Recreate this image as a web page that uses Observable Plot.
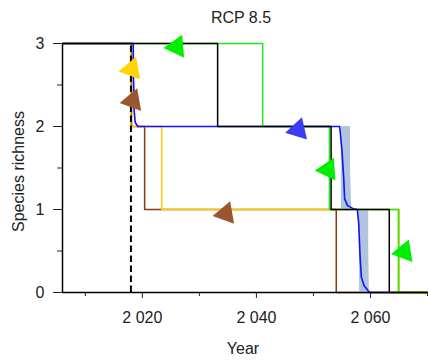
<!DOCTYPE html>
<html>
<head>
<meta charset="utf-8">
<script src="https://cdn.jsdelivr.net/npm/d3@7"></script>
<script src="https://cdn.jsdelivr.net/npm/@observablehq/plot@0.6"></script>
<style>
  html, body { margin: 0; padding: 0; background: #fff; }
  svg { font-family: "Liberation Sans", Arial, sans-serif; }
</style>
</head>
<body>
<div id="chart"></div>
<script>
// ---- data ----
const xDomain = [2006, 2070];
const yTicks = [0, 1, 2, 3];
const yMinorTicks = [0.5, 1.5, 2.5];
const xTicks = [2020, 2040, 2060];
const xMinorTicks = [2010, 2030, 2050, 2070];
const presentYear = 2018;

// step series: year where each level starts, and the level
const blackYears = [2006, 2033.2, 2053.1, 2063.3, 2070];
const blackVals  = [3, 2, 1, 0, 0];
const greenYears = [2006, 2041.1, 2052.8, 2064.9, 2070];
const greenVals  = [3, 2, 1, 0, 0];
const goldYears  = [2006, 2017.95, 2023.4, 2065.05, 2070];
const goldVals   = [3, 2, 1, 0, 0];
const brownYears = [2006, 2018.1, 2020.4, 2054.0, 2070];
const brownVals  = [3, 2, 1, 0, 0];

// blue mean trajectory (smooth)
const blueYears = [2006, 2018.4, 2018.45, 2018.55, 2018.75, 2019.2, 2054.6, 2055.0, 2055.3, 2055.47, 2055.95, 2056.95, 2057.7, 2057.94, 2058.18, 2058.41, 2058.89, 2059.6, 2059.9, 2063.3];
const blueVals  = [3, 3, 2.6, 2.2, 2.05, 2.0, 2.0, 1.71, 1.39, 1.13, 1.05, 1.01, 1.0, 0.83, 0.43, 0.18, 0.08, 0.02, 0.0, 0.0];

// blue uncertainty bands
const band1Vals = [2.0, 1.5, 1.05, 1.0];
const band1Lo   = [2054.9, 2054.9, 2054.9, 2054.9];
const band1Hi   = [2056.5, 2056.5, 2056.7, 2056.7];
const band2Vals = [1.0, 0.5, 0.05, 0.0];
const band2Lo   = [2058.0, 2058.05, 2058.1, 2058.1];
const band2Hi   = [2059.7, 2059.7, 2059.8, 2059.8];

// arrowhead markers
const triYears  = [2026.0, 2018.1, 2018.3, 2047.3, 2052.55, 2034.6, 2065.9];
const triVals   = [2.96, 2.69, 2.31, 1.96, 1.48, 0.95, 0.49];
const triColors = ["#00ee00", "#ffd400", "#9a5630", "#3c3cf2", "#00ee00", "#9a5630", "#00ee00"];
const triRotate = [-95, -100, -100, -103, -94, -100, -99];

const title = "RCP 8.5";
const xLabel = "Year";
const yLabel = "Species richness";

// ---- build tables ----
const toRows = (xs, ys) => xs.map((x, i) => ({x, y: ys[i]}));
const black = toRows(blackYears, blackVals);
const green = toRows(greenYears, greenVals);
const gold = toRows(goldYears, goldVals);
const brown = toRows(brownYears, brownVals);
const blue = toRows(blueYears, blueVals);
const band1 = band1Vals.map((y, i) => ({y, x1: band1Lo[i], x2: band1Hi[i]}));
const band2 = band2Vals.map((y, i) => ({y, x1: band2Lo[i], x2: band2Hi[i]}));
const tris = triYears.map((x, i) => ({x, y: triVals[i], c: triColors[i], r: triRotate[i]}));

const fmt = d3.formatLocale({decimal: ".", thousands: " ", grouping: [3], currency: ["", ""]}).format(",");

const chart = Plot.plot({
  width: 428,
  height: 361,
  marginLeft: 62,
  marginRight: 1,
  marginTop: 43,
  marginBottom: 69,
  style: {fontSize: "16px", fontFamily: "Liberation Sans, Arial, sans-serif", color: "#222", background: "#fff"},
  x: {domain: xDomain},
  y: {domain: [0, 3]},
  marks: [
    Plot.axisY({ticks: yTicks, tickSize: 9, tickPadding: 9, tickFormat: d => String(d), label: null, fontSize: 16}),
    Plot.axisY({ticks: yMinorTicks, tickSize: 5, tickFormat: () => "", label: null}),
    Plot.axisX({ticks: xTicks, tickSize: 6, tickPadding: 13, tickFormat: fmt, label: null, fontSize: 16}),
    Plot.axisX({ticks: xMinorTicks, tickSize: 4, tickFormat: () => "", label: null}),
    Plot.line(brown, {x: "x", y: "y", curve: "step-after", stroke: "#8b3a10", strokeWidth: 1.5}),
    Plot.line(gold, {x: "x", y: "y", curve: "step-after", stroke: "#ffcc00", strokeWidth: 1.5}),
    Plot.line(green, {x: "x", y: "y", curve: "step-after", stroke: "#22e622", strokeWidth: 1.5}),
    Plot.ruleX([presentYear], {y1: 0, y2: 3, stroke: "#000", strokeWidth: 2, strokeDasharray: "6.5,3.5"}),
    Plot.areaX(band1, {y: "y", x1: "x1", x2: "x2", fill: "#b0c4de", curve: "linear"}),
    Plot.areaX(band2, {y: "y", x1: "x1", x2: "x2", fill: "#b0c4de", curve: "linear"}),
    Plot.line(blue, {x: "x", y: "y", stroke: "#1010ff", strokeWidth: 1.6}),
    Plot.line(black, {x: "x", y: "y", curve: "step-after", stroke: "#000", strokeWidth: 1.5}),
    Plot.ruleY([0], {stroke: "#000", strokeWidth: 1.5}),
    Plot.ruleX([xDomain[0]], {y1: 0, y2: 3, stroke: "#000", strokeWidth: 1.5}),
    Plot.dot(tris, {x: "x", y: "y", symbol: "triangle", r: 8.5, fill: d => d.c, stroke: "none", rotate: "r"}),
    Plot.text([title], {frameAnchor: "top", textAnchor: "middle", lineAnchor: "top", dx: -4, dy: -31.7, fontSize: 16, fill: "#222"}),
    Plot.text([xLabel], {frameAnchor: "bottom", textAnchor: "middle", lineAnchor: "top", dx: -2, dy: 50, fontSize: 16, fill: "#222"}),
    Plot.text([yLabel], {frameAnchor: "left", textAnchor: "middle", rotate: -90, dx: -44, dy: 3.5, fontSize: 16, fill: "#222"})
  ]
});
document.getElementById("chart").appendChild(chart);
</script>
</body>
</html>
